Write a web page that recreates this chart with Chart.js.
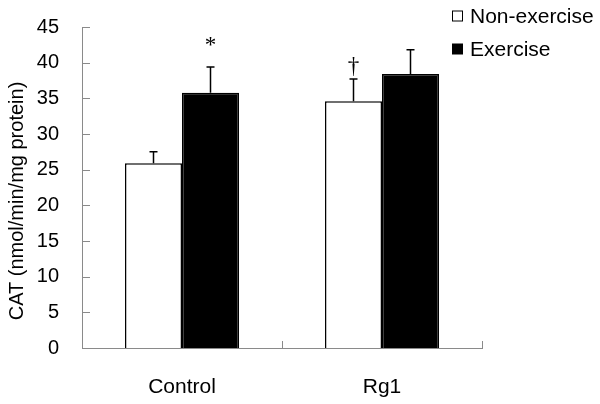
<!DOCTYPE html>
<html>
<head>
<meta charset="utf-8">
<script src="https://cdn.jsdelivr.net/npm/chart.js@4/dist/chart.umd.min.js"></script>
<style>
  body { margin: 0; background: #fff; }
</style>
</head>
<body>
<canvas id="cat" width="600" height="404"></canvas>
<script>
const GROUPS = ['Control', 'Rg1'];
const SERIES = ['Non-exercise', 'Exercise'];
const NON_EXERCISE = [25.9, 34.6];
const EXERCISE = [35.8, 38.4];
const NON_EXERCISE_SD = [1.6, 3.1];
const EXERCISE_SD = [3.6, 3.4];
const NON_EXERCISE_MARKS = ['', '\u2020'];
const EXERCISE_MARKS = ['*', ''];
const Y_MIN = 0;
const Y_MAX = 45;
const Y_STEP = 5;
const Y_TITLE = 'CAT (nmol/min/mg protein)';

const AXIS_COLOR = '#8a8a8a';
const FONT = 'Liberation Sans, Arial, sans-serif';

Chart.defaults.font.family = FONT;
Chart.defaults.font.size = 20;
Chart.defaults.color = '#000';

// error bars + significance marks
const errorBars = {
  id: 'errorBars',
  afterDatasetsDraw(chart) {
    const { ctx, scales: { y } } = chart;
    ctx.save();
    ctx.strokeStyle = '#000';
    ctx.lineWidth = 1.5;
    chart.data.datasets.forEach((ds, i) => {
      chart.getDatasetMeta(i).data.forEach((bar, j) => {
        const top = y.getPixelForValue(ds.data[j] + ds.sd[j]);
        ctx.beginPath();
        ctx.moveTo(bar.x, bar.y);
        ctx.lineTo(bar.x, top);
        ctx.moveTo(bar.x - 4, top);
        ctx.lineTo(bar.x + 4, top);
        ctx.stroke();

        const mark = ds.marks[j];
        if (mark) {
          ctx.fillStyle = '#000';
          ctx.font = '23px Liberation Serif, Times New Roman, serif';
          ctx.textAlign = 'center';
          ctx.textBaseline = 'bottom';
          ctx.fillText(mark, bar.x, mark === '*' ? top - 9 : top - 1);
        }
      });
    });
    ctx.restore();
  },
};

// inside tick marks, axis title and legend
const decorations = {
  id: 'decorations',
  afterDraw(chart) {
    const { ctx, chartArea, scales: { x, y } } = chart;
    ctx.save();
    ctx.strokeStyle = AXIS_COLOR;
    ctx.lineWidth = 1;
    ctx.beginPath();
    y.ticks.forEach((t) => {
      const py = Math.round(y.getPixelForValue(t.value)) + 0.5;
      ctx.moveTo(chartArea.left, py);
      ctx.lineTo(chartArea.left + 8, py);
    });
    GROUPS.forEach((g, i) => {
      const px = Math.round(x.getPixelForValue(i) + (x.getPixelForValue(1) - x.getPixelForValue(0)) / 2) + 0.5;
      ctx.moveTo(px, chartArea.bottom);
      ctx.lineTo(px, chartArea.bottom - 7);
    });
    ctx.stroke();

    ctx.fillStyle = '#000';
    ctx.font = `20px ${FONT}`;
    ctx.translate(17, 201);
    ctx.rotate(-Math.PI / 2);
    ctx.textAlign = 'center';
    ctx.textBaseline = 'middle';
    ctx.fillText(Y_TITLE, 0, 0);
    ctx.setTransform(1, 0, 0, 1, 0, 0);

    const legendY = [16, 49];
    ctx.font = `21px ${FONT}`;
    chart.data.datasets.forEach((ds, i) => {
      const cy = legendY[i];
      ctx.fillStyle = ds.backgroundColor;
      ctx.fillRect(452.5, cy - 5, 10, 10);
      ctx.strokeStyle = '#000';
      ctx.lineWidth = 1;
      ctx.strokeRect(452.5, cy - 5, 10, 10);
      ctx.fillStyle = '#000';
      ctx.textAlign = 'left';
      ctx.textBaseline = 'middle';
      ctx.fillText(ds.label, 470, cy + 1);
    });
    ctx.restore();
  },
};

new Chart(document.getElementById('cat'), {
  type: 'bar',
  data: {
    labels: GROUPS,
    datasets: [
      {
        label: SERIES[0],
        data: NON_EXERCISE,
        sd: NON_EXERCISE_SD,
        marks: NON_EXERCISE_MARKS,
        backgroundColor: '#fff',
        borderColor: '#000',
        borderWidth: 1.5,
        categoryPercentage: 0.57,
        barPercentage: 1,
      },
      {
        label: SERIES[1],
        data: EXERCISE,
        sd: EXERCISE_SD,
        marks: EXERCISE_MARKS,
        backgroundColor: '#000',
        borderColor: '#000',
        borderWidth: 1.5,
        categoryPercentage: 0.57,
        barPercentage: 1,
      },
    ],
  },
  options: {
    responsive: false,
    animation: false,
    layout: { padding: { left: 0, top: 25, right: 118, bottom: 0 } },
    plugins: {
      legend: { display: false },
      tooltip: { enabled: false },
    },
    scales: {
      x: {
        grid: { display: false },
        border: { display: true, color: AXIS_COLOR, width: 1 },
        ticks: { padding: 19, font: { size: 21 } },
        afterFit: (scale) => { scale.height = 56; },
      },
      y: {
        min: Y_MIN,
        max: Y_MAX,
        grid: { display: false },
        border: { display: true, color: AXIS_COLOR, width: 1 },
        ticks: { stepSize: Y_STEP, padding: 15, font: { size: 20 } },
        afterFit: (scale) => { scale.width = 82; },
      },
    },
  },
  plugins: [errorBars, decorations],
});
</script>
</body>
</html>
